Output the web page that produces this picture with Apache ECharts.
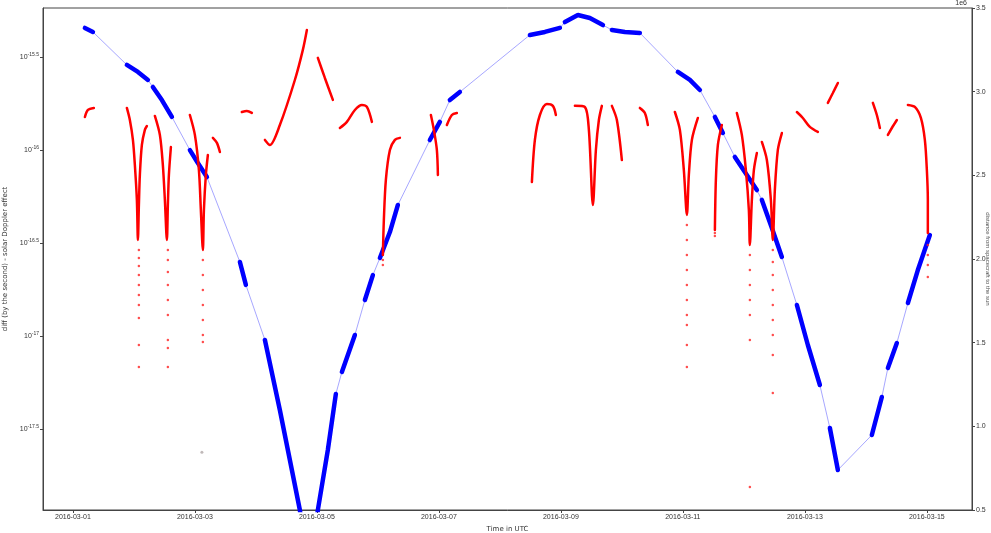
<!DOCTYPE html>
<html>
<head>
<meta charset="utf-8">
<script src="https://cdn.jsdelivr.net/npm/echarts@6/dist/echarts.min.js"></script>
<style>
html, body { margin: 0; padding: 0; background: #fff; }
#chart { width: 991px; height: 533px; }
</style>
</head>
<body>
<div id="chart"></div>
<script>
// x = days after 2016-03-01 00:00 UTC
var dayLabels = [0, 2, 4, 6, 8, 10, 12, 14];
var leftTicks = [-17.5, -17, -16.5, -16, -15.5]; // exponents of 10

// red: solid parts of the doppler diff (left axis, log10 of value)
var redSegments = [
	[[0.197, -15.823], [0.246, -15.785], [0.344, -15.774]],
	[[0.885, -15.774], [0.934, -15.839], [0.984, -15.946], [1.016, -16.081], [1.049, -16.269], [1.066, -16.484], [1.082, -16.296], [1.098, -16.134], [1.131, -15.973], [1.180, -15.892], [1.213, -15.871]],
	[[1.344, -15.817], [1.426, -15.919], [1.475, -16.081], [1.508, -16.269], [1.541, -16.484], [1.557, -16.296], [1.574, -16.134], [1.607, -15.984]],
	[[1.918, -15.812], [2.0, -15.919], [2.066, -16.108], [2.098, -16.323], [2.131, -16.538], [2.148, -16.323], [2.180, -16.134], [2.213, -16.027]],
	[[2.295, -15.935], [2.361, -15.962], [2.410, -16.011]],
	[[2.770, -15.796], [2.852, -15.790], [2.934, -15.801]],
	[[3.148, -15.946], [3.230, -15.973], [3.393, -15.866], [3.639, -15.624], [3.770, -15.462], [3.836, -15.355]],
	[[4.016, -15.505], [4.131, -15.613], [4.262, -15.731]],
	[[4.377, -15.882], [4.492, -15.849], [4.623, -15.785], [4.738, -15.758], [4.820, -15.769], [4.902, -15.849]],
	[[5.082, -16.565], [5.098, -16.376], [5.131, -16.161], [5.197, -16.0], [5.279, -15.946], [5.361, -15.935]],
	[[5.869, -15.812], [5.918, -15.892], [5.967, -16.0], [5.984, -16.134]],
	[[6.131, -15.866], [6.213, -15.812], [6.295, -15.801]],
	[[7.525, -16.172], [7.574, -15.946], [7.656, -15.812], [7.770, -15.753], [7.869, -15.763], [7.918, -15.812]],
	[[8.230, -15.763], [8.393, -15.769], [8.459, -15.892], [8.525, -16.296], [8.574, -16.0], [8.623, -15.839], [8.672, -15.763]],
	[[8.836, -15.763], [8.918, -15.839], [9.0, -16.054]],
	[[9.295, -15.774], [9.377, -15.801], [9.426, -15.866]],
	[[9.869, -15.796], [9.951, -15.892], [10.016, -16.108], [10.066, -16.349], [10.098, -16.134], [10.148, -15.946], [10.246, -15.828]],
	[[10.525, -16.430], [10.541, -16.161], [10.574, -15.973], [10.639, -15.866]],
	[[10.885, -15.801], [10.967, -15.919], [11.033, -16.108], [11.082, -16.323], [11.098, -16.511], [11.131, -16.269], [11.164, -16.108], [11.213, -16.016]],
	[[11.295, -15.957], [11.377, -16.054], [11.443, -16.269], [11.475, -16.484], [11.508, -16.215], [11.557, -16.0], [11.623, -15.909]],
	[[11.869, -15.796], [11.967, -15.828], [12.082, -15.876], [12.213, -15.903]],
	[[12.377, -15.747], [12.459, -15.694], [12.541, -15.640]],
	[[13.115, -15.747], [13.180, -15.812], [13.230, -15.882]],
	[[13.361, -15.919], [13.426, -15.882], [13.508, -15.839]],
	[[13.689, -15.758], [13.803, -15.769], [13.902, -15.828], [13.967, -15.946], [14.0, -16.108], [14.016, -16.269], [14.016, -16.446]]
];

// red: sparse points trailing below the dips
var redDots = [
	[1.082, -16.538], [1.082, -16.581], [1.082, -16.624], [1.082, -16.672], [1.082, -16.726], [1.082, -16.780], [1.082, -16.833], [1.082, -16.903], [1.082, -17.048], [1.082, -17.167],
	[1.557, -16.538], [1.557, -16.591], [1.557, -16.656], [1.557, -16.726], [1.557, -16.806], [1.557, -16.887], [1.557, -17.022], [1.557, -17.065], [1.557, -17.167],
	[2.131, -16.591], [2.131, -16.672], [2.131, -16.753], [2.131, -16.833], [2.131, -16.914], [2.131, -16.995], [2.131, -17.032],
	[5.082, -16.591], [5.082, -16.618],
	[10.066, -16.403], [10.066, -16.484], [10.066, -16.565], [10.066, -16.645], [10.066, -16.726], [10.066, -16.806], [10.066, -16.887], [10.066, -16.941], [10.066, -17.048], [10.066, -17.167],
	[10.525, -16.446], [10.525, -16.462],
	[11.098, -16.565], [11.098, -16.645], [11.098, -16.726], [11.098, -16.806], [11.098, -16.887], [11.098, -17.022], [11.098, -17.812],
	[11.475, -16.538], [11.475, -16.602], [11.475, -16.672], [11.475, -16.753], [11.475, -16.833], [11.475, -16.914], [11.475, -16.995], [11.475, -17.102], [11.475, -17.306],
	[14.016, -16.511], [14.016, -16.565], [14.016, -16.618], [14.016, -16.683]
];
var greyDots = [[2.115, -17.624]];

// blue: distance (right axis, x 1e6), dense stretches
var blueSegments = [
	[[0.197, 3.381], [0.328, 3.357]],
	[[0.885, 3.160], [1.066, 3.118], [1.230, 3.070]],
	[[1.311, 3.028], [1.459, 2.950], [1.623, 2.849]],
	[[1.918, 2.651], [2.049, 2.574], [2.197, 2.490]],
	[[2.738, 1.982], [2.836, 1.845]],
	[[3.148, 1.516], [3.393, 1.098], [3.590, 0.739], [3.721, 0.5], [3.80, 0.3]],
	[[3.95, 0.3], [4.016, 0.5], [4.180, 0.859], [4.311, 1.193]],
	[[4.410, 1.325], [4.623, 1.546]],
	[[4.787, 1.755], [4.918, 1.904]],
	[[5.033, 2.006], [5.197, 2.161], [5.328, 2.323]],
	[[5.852, 2.711], [6.016, 2.819]],
	[[6.180, 2.950], [6.344, 2.998]],
	[[7.492, 3.339], [7.738, 3.357], [7.984, 3.381]],
	[[8.066, 3.416], [8.279, 3.458], [8.475, 3.440], [8.689, 3.398]],
	[[8.836, 3.369], [9.049, 3.357], [9.295, 3.351]],
	[[9.918, 3.118], [10.115, 3.070], [10.279, 3.010]],
	[[10.525, 2.849], [10.656, 2.753]],
	[[10.852, 2.610], [11.016, 2.520], [11.213, 2.412]],
	[[11.295, 2.353], [11.459, 2.185], [11.623, 2.012]],
	[[11.869, 1.725], [12.049, 1.486], [12.246, 1.247]],
	[[12.410, 0.990], [12.541, 0.739]],
	[[13.098, 0.948], [13.262, 1.175]],
	[[13.361, 1.349], [13.508, 1.498]],
	[[13.689, 1.737], [13.852, 1.934], [14.049, 2.143]]
];

var axisColor = '#444';
var labelStyle = { fontSize: 7, color: '#333', fontFamily: 'DejaVu Sans' };

function pad(n) {
	return n < 10 ? '0' + n : '' + n;
}

drawChart();

function drawChart() {
	var myChart = echarts.init(document.getElementById('chart'));
	var series = [];

	// thin line through every blue point
	var blueAll = [];
	for (var i = 0; i < blueSegments.length; i++) {
		blueAll = blueAll.concat(blueSegments[i]);
	}
	series.push({
		type: 'line',
		yAxisIndex: 1,
		data: blueAll,
		showSymbol: false,
		silent: true,
		animation: false,
		lineStyle: { width: 1, color: 'rgba(80,80,255,0.5)' },
		z: 2
	});
	for (var i = 0; i < blueSegments.length; i++) {
		series.push({
			type: 'line',
			yAxisIndex: 1,
			data: blueSegments[i],
			showSymbol: false,
			animation: false,
			lineStyle: { width: 4.5, color: '#0000ff', cap: 'round' },
			z: 3
		});
	}
	for (var j = 0; j < redSegments.length; j++) {
		series.push({
			type: 'line',
			yAxisIndex: 0,
			data: redSegments[j],
			showSymbol: false,
			smooth: 0.3,
			animation: false,
			lineStyle: { width: 2.5, color: '#ff0000', cap: 'round' },
			z: 4
		});
	}
	series.push({
		type: 'scatter',
		yAxisIndex: 0,
		data: redDots,
		symbolSize: 2.5,
		animation: false,
		itemStyle: { color: '#ff2020' },
		z: 4
	});
	series.push({
		type: 'scatter',
		yAxisIndex: 0,
		data: greyDots,
		symbolSize: 3,
		animation: false,
		itemStyle: { color: '#b0a8a8' },
		z: 4
	});

	var option = {
		backgroundColor: '#fff',
		animation: false,
		grid: {
			left: 43,
			right: 19,
			top: 8,
			bottom: 23,
			show: true,
			borderColor: axisColor,
			borderWidth: 1,
			containLabel: false,
			outerBoundsMode: 'none'
		},
		xAxis: {
			type: 'value',
			min: -0.49,
			max: 14.74,
			name: 'Time in UTC',
			nameLocation: 'middle',
			nameGap: 13,
			nameTextStyle: labelStyle,
			axisLine: { show: true, onZero: false, lineStyle: { color: axisColor } },
			axisTick: { show: true, length: 3, customValues: dayLabels, lineStyle: { color: axisColor } },
			splitLine: { show: false },
			axisLabel: {
				customValues: dayLabels,
				fontSize: 7,
				color: '#333',
				margin: 4,
				formatter: function(v) {
					return '2016-03-' + pad(1 + Math.round(v));
				}
			}
		},
		yAxis: [{
			type: 'value',
			position: 'left',
			min: -17.935,
			max: -15.237,
			name: 'diff (by the second) - solar Doppler effect',
			nameLocation: 'middle',
			nameGap: 32,
			nameRotate: 90,
			nameTextStyle: labelStyle,
			axisLine: { show: true, onZero: false, lineStyle: { color: axisColor } },
			axisTick: { show: true, length: 3, customValues: leftTicks, lineStyle: { color: axisColor } },
			splitLine: { show: false },
			axisLabel: {
				customValues: leftTicks,
				margin: 4,
				formatter: function(v) {
					return '10{sup|' + (Math.round(v * 10) / 10) + '}';
				},
				fontSize: 7,
				color: '#333',
				rich: {
					sup: { fontSize: 5, color: '#333', verticalAlign: 'bottom', padding: [0, 0, 5, 0] }
				}
			}
		}, {
			type: 'value',
			position: 'right',
			min: 0.5,
			max: 3.5,
			interval: 0.5,
			name: 'distance from spacecraft to the sun',
			nameLocation: 'middle',
			nameGap: 13,
			nameRotate: -90,
			nameMoveOverlap: false,
			nameTextStyle: { fontSize: 6, color: '#555' },
			axisLine: { show: true, onZero: false, lineStyle: { color: axisColor } },
			axisTick: { show: true, length: 3, lineStyle: { color: axisColor } },
			splitLine: { show: false },
			axisLabel: {
				fontSize: 7,
				color: '#333',
				margin: 4,
				formatter: function(v) {
					return v.toFixed(1);
				}
			}
		}],
		graphic: [{
			type: 'text',
			right: 24,
			top: 0,
			style: { text: '1e6', fontSize: 7, fill: '#333' }
		}],
		series: series
	};
	myChart.setOption(option);
}
</script>
</body>
</html>
